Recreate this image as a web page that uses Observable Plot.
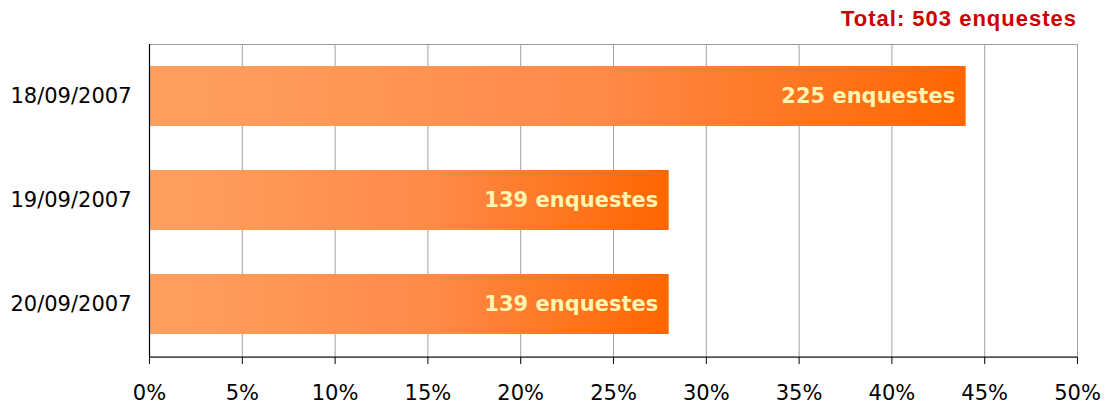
<!DOCTYPE html>
<html>
<head>
<meta charset="utf-8">
<script src="https://cdn.jsdelivr.net/npm/d3@7"></script>
<script src="https://cdn.jsdelivr.net/npm/@observablehq/plot@0.6"></script>
<style>
  body { margin: 0; background: #fff; }
  #title { height: 30px; box-sizing: border-box; padding-top: 8px; padding-right: 32px; text-align: right;
    font: bold 22px "Liberation Sans", Arial, sans-serif; line-height: 22px; letter-spacing: 1px; color: #CC0000; }
</style>
</head>
<body>
<div id="title">Total: 503 enquestes</div>
<div id="chart"></div>
<script>
const dates = ["18/09/2007", "19/09/2007", "20/09/2007"];
const percents = [44, 28, 28];
const counts = [225, 139, 139];
const xTicks = [0, 5, 10, 15, 20, 25, 30, 35, 40, 45, 50];
const totalLabel = "Total: 503 enquestes";

const data = dates.map((d, i) => ({date: d, pct: percents[i], n: counts[i], label: `${counts[i]} enquestes`}));

const defs = () => {
  const ns = "http://www.w3.org/2000/svg";
  const d = document.createElementNS(ns, "defs");
  const g = document.createElementNS(ns, "linearGradient");
  g.setAttribute("id", "barGrad");
  g.setAttribute("x1", "0"); g.setAttribute("x2", "1"); g.setAttribute("y1", "0"); g.setAttribute("y2", "0");
  [["0%", "#FFA060"], ["55%", "#FF8A48"], ["100%", "#FF6600"]].forEach(([o, c]) => {
    const s = document.createElementNS(ns, "stop");
    s.setAttribute("offset", o); s.setAttribute("stop-color", c);
    g.appendChild(s);
  });
  d.appendChild(g);
  return d;
};

const bottomLine = (index, scales, values, dim) => {
  const ns = "http://www.w3.org/2000/svg";
  const l = document.createElementNS(ns, "line");
  const y = dim.height - dim.marginBottom;
  l.setAttribute("x1", dim.marginLeft); l.setAttribute("x2", dim.width - dim.marginRight);
  l.setAttribute("y1", y); l.setAttribute("y2", y);
  l.setAttribute("stroke", "#000"); l.setAttribute("stroke-width", 1.2);
  return l;
};

const chart = Plot.plot({
  width: 1109,
  height: 378,
  marginTop: 14,
  marginBottom: 51,
  marginLeft: 149,
  marginRight: 32,
  style: {fontFamily: "'DejaVu Sans', sans-serif", fontSize: "21px", color: "#000", background: "#fff"},
  x: {domain: [0, 50], ticks: xTicks, label: null},
  y: {domain: dates, paddingInner: 0.42, paddingOuter: 0.21, label: null},
  marks: [
    defs,
    Plot.gridX(xTicks, {stroke: "#A0A0A0", strokeOpacity: 1}),
    Plot.frame({stroke: "#A0A0A0"}),
    Plot.barX(data, {x: "pct", y: "date", fill: "url(#barGrad)"}),
    Plot.text(data, {x: "pct", y: "date", text: "label", textAnchor: "end", dx: -11,
      fill: "#FFF4B0", fontWeight: "bold", fontSize: 21, fontFamily: "'DejaVu Sans', sans-serif"}),
    Plot.ruleX([0], {stroke: "#000", strokeWidth: 1.2}),
    bottomLine,
    Plot.axisX(xTicks, {tickSize: 7, tickPadding: 21, tickFormat: d => d + "%", stroke: "#000", fill: "#000", label: null}),
    Plot.axisY({tickSize: 0, tickPadding: 18, fill: "#000", label: null})
  ]
});
document.getElementById("chart").appendChild(chart);
</script>
</body>
</html>
